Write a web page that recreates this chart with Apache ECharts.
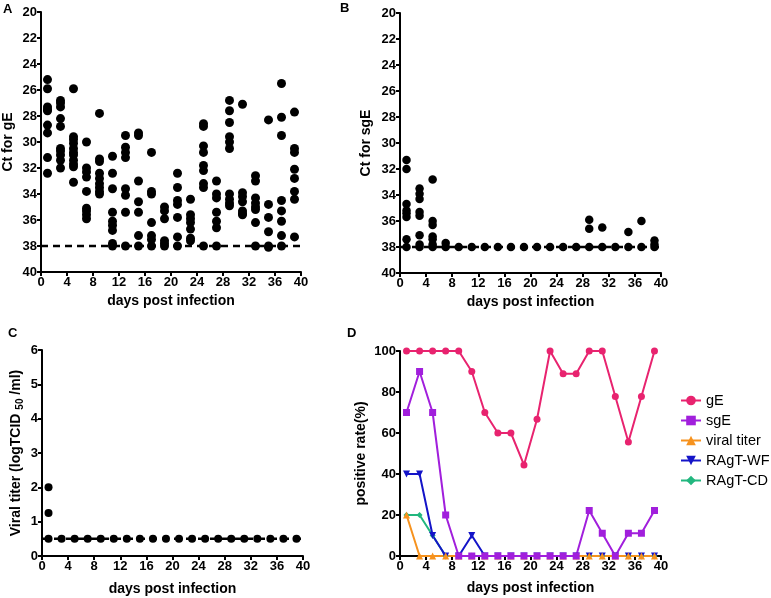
<!DOCTYPE html>
<html lang="en">
<head>
	<meta charset="UTF-8">
	<title>Ct / viral titer / positive rate</title>
	<style type="text/css">
		html, body { margin: 0; padding: 0; background: #fff; }
		#main { width: 771px; height: 598px; }
	</style>
</head>
<body>
	<div id="main"></div>
	<script type="text/javascript" src="https://cdn.jsdelivr.net/npm/echarts@6/dist/echarts.min.js"></script>
	<script type="text/javascript">
		// sampling days
		var days = [1, 3, 5, 7, 9, 11, 13, 15, 17, 19, 21, 23, 25, 27, 29, 31, 33, 35, 37, 39];

		// A: Ct for gE, one list per day
		var ctGE = [
			[25.2, 25.9, 27.3, 27.5, 27.6, 28.7, 29.3, 31.2, 32.4],
			[26.8, 27.0, 27.3, 28.2, 28.8, 30.5, 30.7, 31.0, 31.4, 32.0],
			[25.9, 29.6, 29.8, 30.1, 30.5, 30.8, 31.0, 31.4, 31.7, 31.9, 33.1],
			[30.0, 32.0, 32.3, 32.7, 33.8, 35.1, 35.3, 35.6, 35.9],
			[27.8, 31.3, 31.5, 32.4, 32.8, 33.2, 33.5, 33.8, 34.0],
			[31.1, 32.4, 33.6, 35.4, 36.1, 36.4, 36.8, 37.8, 38.0],
			[29.5, 30.4, 30.8, 31.2, 33.6, 34.1, 35.4, 38.0],
			[29.3, 29.5, 33.0, 34.6, 35.4, 37.2, 38.0],
			[30.8, 33.8, 34.0, 36.2, 37.2, 37.5, 38.0],
			[35.0, 35.3, 35.9, 37.6, 37.8, 38.0],
			[32.4, 33.5, 34.5, 34.8, 35.8, 37.3, 38.0],
			[34.4, 35.6, 35.9, 36.2, 36.7, 37.4, 37.6],
			[28.6, 28.8, 30.3, 30.8, 31.8, 32.2, 33.2, 33.5, 38.0],
			[33.0, 34.0, 34.3, 35.4, 36.1, 36.6, 38.0],
			[26.8, 27.6, 28.5, 29.6, 30.0, 30.5, 34.0, 34.4, 34.7, 34.9],
			[27.1, 33.9, 34.2, 34.6, 35.3, 35.5, 35.6],
			[32.6, 33.0, 34.3, 34.7, 35.0, 35.2, 36.2, 38.0],
			[28.3, 34.8, 35.8, 36.9, 38.0, 38.1],
			[25.5, 28.1, 29.5, 34.5, 35.3, 36.1, 37.2, 38.0],
			[27.7, 30.5, 30.8, 32.1, 32.8, 33.8, 34.4, 37.3]
		];

		// B: Ct for sgE
		var ctSGE = [
			[31.3, 32.0, 34.7, 35.2, 35.4, 35.7, 37.4, 38.0],
			[33.5, 33.9, 34.3, 35.3, 35.6, 37.1, 37.8, 38.0],
			[32.8, 36.0, 36.3, 37.2, 37.4, 37.8, 38.0],
			[37.7, 38.0],
			[38.0], [38.0], [38.0], [38.0], [38.0], [38.0], [38.0], [38.0], [38.0], [38.0],
			[35.9, 36.6, 38.0],
			[36.5, 38.0],
			[38.0],
			[36.85, 38.0],
			[36.0, 38.0],
			[37.5, 37.8, 38.0]
		];
		var ctCutoff = 38;

		// C: viral titer (logTCID50/ml)
		var titer = [
			[2.0, 1.25, 0.5],
			[0.5], [0.5], [0.5], [0.5], [0.5], [0.5], [0.5], [0.5], [0.5],
			[0.5], [0.5], [0.5], [0.5], [0.5], [0.5], [0.5], [0.5], [0.5], [0.5]
		];
		var titerLimit = 0.5;
		var cutoffEnd = 41;

		// D: positive rate (%)
		var rateNames = ['gE', 'sgE', 'viral titer', 'RAgT-WF', 'RAgT-CD'];
		var rateGE = [100, 100, 100, 100, 100, 90, 70, 60, 60, 44.4, 66.7, 100, 88.9, 88.9, 100, 100, 77.8, 55.6, 77.8, 100];
		var rateSGE = [70, 90, 70, 20, 0, 0, 0, 0, 0, 0, 0, 0, 0, 0, 22.2, 11.1, 0, 11.1, 11.1, 22.2];
		var rateTiter = [20, 0, 0, 0, 0, 0, 0, 0, 0, 0, 0, 0, 0, 0, 0, 0, 0, 0, 0, 0];
		var rateWF = [40, 40, 10, 0, 0, 10, 0, 0, 0, 0, 0, 0, 0, 0, 0, 0, 0, 0, 0, 0];
		var rateCD = [20, 20, 10, 0, 0, 0, 0, 0, 0, 0, 0, 0, 0, 0, 0, 0, 0, 0, 0, 0];
		var rateColors = ['#e8236f', '#a11fdc', '#f6921e', '#1414c8', '#22b77f'];
		var rateSymbols = ['circle', 'rect', 'triangle', 'path://M0,0 L10,0 L5,9 Z', 'diamond'];

		var myChart = echarts.init(document.getElementById('main'));
		var font = 'Liberation Sans, Arial, sans-serif';

		// flatten per-day lists into [day, value] points
		function toPoints(lists) {
			var pts = [];
			for (var i = 0; i < days.length; i++) {
				for (var j = 0; j < lists[i].length; j++) {
					pts.push([days[i], lists[i][j]]);
				}
			}
			return pts;
		}

		function pairs(vals) {
			var out = [];
			for (var i = 0; i < days.length; i++) out.push([days[i], vals[i]]);
			return out;
		}

		var axisLine = { show: true, onZero: false, lineStyle: { color: '#000', width: 2 } };
		var axisTick = { show: true, length: 4, lineStyle: { color: '#000', width: 2 } };
		var tickLabel = { color: '#000', fontWeight: 'bold', fontSize: 13, fontFamily: font, margin: 4 };
		var nameStyle = { color: '#000', fontWeight: 'bold', fontSize: 14, fontFamily: font };

		function xAxisFor(idx, gap) {
			return {
				type: 'value', gridIndex: idx, min: 0, max: 40, interval: 4,
				name: 'days post infection', nameLocation: 'middle', nameGap: gap,
				nameTextStyle: nameStyle,
				axisLine: axisLine, axisTick: axisTick, axisLabel: tickLabel,
				splitLine: { show: false }
			};
		}

		function yAxisFor(idx, lo, hi, step, name, gap, inv) {
			return {
				type: 'value', gridIndex: idx, min: lo, max: hi, interval: step, inverse: inv,
				name: name, nameLocation: 'middle', nameGap: gap, nameTextStyle: nameStyle,
				axisLine: axisLine, axisTick: axisTick, axisLabel: tickLabel, splitLine: { show: false }
			};
		}

		function cutoffLine(xi, yi, y) {
			return {
				type: 'line', xAxisIndex: xi, yAxisIndex: yi, clip: false,
				data: [[0, y], [cutoffEnd, y]], symbol: 'none', silent: true, z: 1,
				lineStyle: { color: '#000', width: 2.5, type: [7, 5] }
			};
		}

		function dots(xi, yi, lists, size) {
			return {
				type: 'scatter', xAxisIndex: xi, yAxisIndex: yi, data: toPoints(lists),
				symbolSize: size, itemStyle: { color: '#000', opacity: 1 }, z: 3
			};
		}

		var series = [
			cutoffLine(0, 0, ctCutoff), dots(0, 0, ctGE, 9),
			cutoffLine(1, 1, ctCutoff), dots(1, 1, ctSGE, 8.5),
			cutoffLine(2, 2, titerLimit), dots(2, 2, titer, 8)
		];
		var rateData = [rateGE, rateSGE, rateTiter, rateWF, rateCD];
		for (var k = rateData.length - 1; k >= 0; k--) {
			series.push({
				name: rateNames[k], type: 'line', xAxisIndex: 3, yAxisIndex: 3,
				data: pairs(rateData[k]), symbol: rateSymbols[k],
				symbolSize: k === 4 ? 6 : 7, showAllSymbol: true, clip: false,
				lineStyle: { color: rateColors[k], width: 2 },
				itemStyle: { color: rateColors[k] },
				z: 3
			});
		}

		var titerAxis = yAxisFor(2, 0, 6, 1, 'Viral titer (logTCID {sub|50} /ml)', 17, false);
		titerAxis.nameTextStyle = {
			color: '#000', fontWeight: 'bold', fontSize: 14, fontFamily: font,
			rich: { sub: { fontSize: 10, fontWeight: 'bold', color: '#000', fontFamily: font, padding: [7, 0, 0, 0] } }
		};

		var option = {
			animation: false,
			textStyle: { fontFamily: font },
			grid: [
				{ left: 40, top: 12, width: 261, height: 260 },
				{ left: 400, top: 13, width: 261, height: 260 },
				{ left: 42, top: 350, width: 261, height: 206 },
				{ left: 400, top: 351, width: 261, height: 205 }
			],
			xAxis: [xAxisFor(0, 22), xAxisFor(1, 22), xAxisFor(2, 26), xAxisFor(3, 25)],
			yAxis: [
				yAxisFor(0, 20, 40, 2, 'Ct for gE', 26, true),
				yAxisFor(1, 20, 40, 2, 'Ct for sgE', 27, true),
				titerAxis,
				yAxisFor(3, 0, 100, 20, 'positive rate(%)', 32, false)
			],
			legend: {
				orient: 'vertical', left: 675, top: 388, itemGap: 5,
				itemWidth: 20, itemHeight: 12,
				data: rateNames,
				textStyle: { color: '#000', fontSize: 14.5, fontFamily: font }
			},
			graphic: [
				{ type: 'text', left: 3, top: 3, style: { text: 'A', font: 'bold 13px ' + font, fill: '#000' } },
				{ type: 'text', left: 340, top: 2, style: { text: 'B', font: 'bold 13px ' + font, fill: '#000' } },
				{ type: 'text', left: 8, top: 327, style: { text: 'C', font: 'bold 13px ' + font, fill: '#000' } },
				{ type: 'text', left: 347, top: 327, style: { text: 'D', font: 'bold 13px ' + font, fill: '#000' } }
			],
			series: series
		};
		myChart.setOption(option);
	</script>
</body>
</html>
